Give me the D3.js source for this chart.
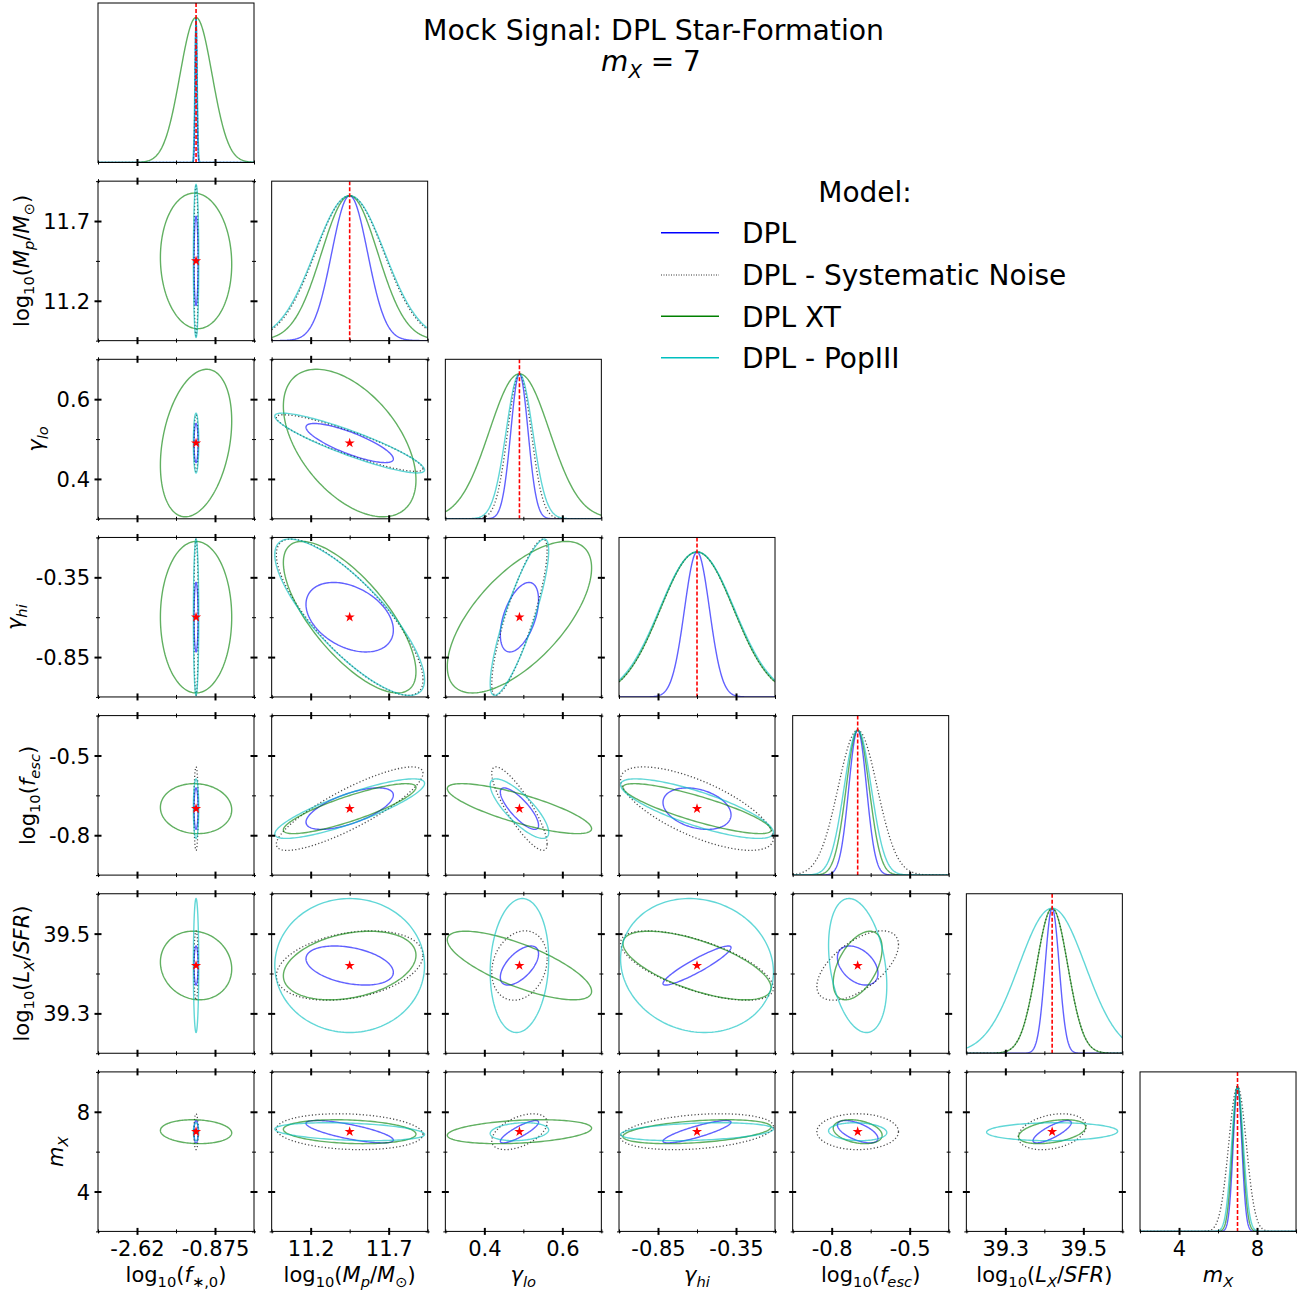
<!DOCTYPE html>
<html><head><meta charset="utf-8">
<script src="https://cdn.jsdelivr.net/npm/d3@7"></script>
<style>body{margin:0;background:#fff} svg text{font-family:"DejaVu Sans";fill:#000}</style>
</head><body><svg id="c" width="1307" height="1291"></svg>
<script>
// ---------------- data ----------------
const paramLabels = [
  [["log","n"],["10","s"],["(","n"],["f","i"],["\u2217,0","s"],[")","n"]],
  [["log","n"],["10","s"],["(","n"],["M","i"],["p","si"],["/","n"],["M","i"],["\u2299","s"],[")","n"]],
  [["\u03b3","i"],["lo","si"]],
  [["\u03b3","i"],["hi","si"]],
  [["log","n"],["10","s"],["(","n"],["f","i"],["esc","si"],[")","n"]],
  [["log","n"],["10","s"],["(","n"],["L","i"],["X","si"],["/","n"],["SFR","i"],[")","n"]],
  [["m","i"],["X","si"]]
];
const paramRanges = [[-3.5,0],[10.95,11.95],[0.3,0.7],[-1.1,-0.1],[-0.95,-0.35],[39.2,39.6],[2,10]];
const truthValues = [-1.3, 11.45, 0.49, -0.6, -0.7, 39.42, 7];
const majorTicks = [[-2.625,-0.875],[11.2,11.7],[0.4,0.6],[-0.85,-0.35],[-0.8,-0.5],[39.3,39.5],[4,8]];
const tickLabels = [["-2.62","-0.875"],["11.2","11.7"],["0.4","0.6"],["-0.85","-0.35"],["-0.8","-0.5"],["39.3","39.5"],["4","8"]];

const modelNames  = ["DPL", "DPL - Systematic Noise", "DPL XT", "DPL - PopIII"];
const modelColors = ["#0000ff", "#000000", "#008000", "#00bfbf"];

// 1D marginal widths (sigma, data units) per parameter
const sigDPL   = [0.020, 0.115, 0.022, 0.080, 0.034, 0.018, 0.22];
const sigNoise = [0.022, 0.220, 0.030, 0.235, 0.075, 0.040, 0.45];
const sigXT    = [0.360, 0.180, 0.077, 0.235, 0.044, 0.040, 0.26];
const sigPop   = [0.026, 0.225, 0.034, 0.240, 0.052, 0.085, 0.30];

// 2D contour half-extents (data units) per parameter
const hwDPL   = [0.045, 0.280, 0.049, 0.218, 0.078, 0.049, 0.56];
const hwNoise = [0.048, 0.470, 0.071, 0.490, 0.157, 0.087, 0.90];
const hwXT    = [0.800, 0.425, 0.185, 0.475, 0.094, 0.086, 0.60];
const hwPop   = [0.060, 0.480, 0.075, 0.490, 0.112, 0.168, 0.45];

// correlations for pairs (row,col): (1,0),(2,0),(2,1),(3,0..2),(4,0..3),(5,0..4),(6,0..5)
const corrDPL   = [0, 0,-0.81, 0,-0.37,0.5, 0,0.65,-0.8,-0.3, 0,-0.35,0.6,0.92,-0.4, 0,-0.75,0.85,0.85,-0.6,0.8];
const corrNoise = [0, 0,-0.9, 0,-0.8,0.85, 0,0.85,-0.85,-0.7, 0,0.3,0.2,-0.65,0.6, 0,-0.15,0.5,0.3,0,0.3];
const corrXT    = [-0.05, 0.3,-0.5, 0,-0.72,0.65, -0.05,0.85,-0.8,-0.85, -0.1,0.3,-0.75,-0.65,0.5, -0.1,-0.2,0.3,0.4,-0.3,0.4];
const corrPop   = [0, 0,-0.9, 0,-0.8,0.85, 0,0.85,-0.8,-0.8, 0,0,0.1,-0.1,-0.3, 0,-0.3,0.2,0.3,-0.1,0.05];

// ---------------- build ----------------
const models = [
  {name:modelNames[0], color:modelColors[0], dash:null, sig:sigDPL, hw:hwDPL, corr:corrDPL},
  {name:modelNames[1], color:modelColors[1], dash:"1.2,2.2", sig:sigNoise, hw:hwNoise, corr:corrNoise},
  {name:modelNames[2], color:modelColors[2], dash:null, sig:sigXT, hw:hwXT, corr:corrXT},
  {name:modelNames[3], color:modelColors[3], dash:null, sig:sigPop, hw:hwPop, corr:corrPop}
];
const N = paramRanges.length;
const X0 = 98, DX = 173.67, PW = 156, Y0 = 3, DY = 178.15, PH = 159.5;
const FS = 21, BIG = 28;
const svg = d3.select("#c");

function rich(sel, segs, fs){
  let cur = 0;
  segs.forEach(([t, st]) => {
    const sub = st[0] === "s";
    const target = sub ? 0.24*fs : 0;
    sel.append("tspan").text(t)
      .attr("dy", target - cur)
      .style("font-size", (sub ? fs*0.7 : fs) + "px")
      .style("font-style", st.includes("i") ? "italic" : "normal");
    cur = target;
  });
}

function ticks(g, x, y, sides, c, r){
  const major = majorTicks[c], dom = paramRanges[c];
  const minor = [dom[0], (dom[0]+dom[1])/2, dom[1]];
  function apply(axisFn, scale, vals, len, w, transform, horiz){
    const a = g.append("g").attr("transform", transform)
      .call(axisFn(scale).tickValues(vals).tickSizeInner(len).tickSizeOuter(0).tickFormat(""));
    a.select(".domain").remove();
    a.selectAll(".tick line").attr(horiz ? "y1" : "x1", -len).attr(horiz ? "y2" : "x2", len)
      .attr("stroke", "#000").attr("stroke-width", w);
  }
  if (sides.includes("b")) { apply(d3.axisBottom, x, major, 3.5, 2, `translate(0,${PH})`, true); apply(d3.axisBottom, x, minor, 2, 1, `translate(0,${PH})`, true); }
  if (sides.includes("t")) { apply(d3.axisTop, x, major, 3.5, 2, `translate(0,0)`, true); apply(d3.axisTop, x, minor, 2, 1, `translate(0,0)`, true); }
  if (y) {
    const ymaj = majorTicks[r], yd = paramRanges[r];
    const ymin = [yd[0], (yd[0]+yd[1])/2, yd[1]];
    if (sides.includes("l")) { apply(d3.axisLeft, y, ymaj, 3.5, 2, `translate(0,0)`, false); apply(d3.axisLeft, y, ymin, 2, 1, `translate(0,0)`, false); }
    if (sides.includes("r")) { apply(d3.axisRight, y, ymaj, 3.5, 2, `translate(${PW},0)`, false); apply(d3.axisRight, y, ymin, 2, 1, `translate(${PW},0)`, false); }
  }
}

function strokeModel(path, m){
  path.attr("fill", "none").attr("stroke", m.color)
    .attr("stroke-opacity", m.dash ? 0.7 : 0.62)
    .attr("stroke-width", 1.4);
  if (m.dash) path.attr("stroke-dasharray", m.dash).attr("stroke-width", 1.3);
}

const defs = svg.append("defs");
defs.append("clipPath").attr("id", "pclip").append("rect").attr("x", 0).attr("y", 0).attr("width", PW).attr("height", PH);

for (let r = 0; r < N; r++) {
  for (let c = 0; c <= r; c++) {
    const px = X0 + c*DX, py = Y0 + r*DY;
    const g = svg.append("g").attr("transform", `translate(${px},${py})`);
    const x = d3.scaleLinear().domain(paramRanges[c]).range([0, PW]);
    if (r === c) {
      const y = d3.scaleLinear().domain([0, 1.1]).range([PH, 0]);
      const xs = d3.range(0, 241).map(i => paramRanges[c][0] + (paramRanges[c][1]-paramRanges[c][0])*i/240);
      const body = g.append("g").attr("clip-path", "url(#pclip)");
      models.forEach(m => {
        const mu = truthValues[c], s = m.sig[c];
        const line = d3.line().x(v => x(v)).y(v => y(Math.exp(-0.5*((v-mu)/s)**2)));
        const xsd = xs.concat(d3.range(-40, 41).map(k => mu + k*s*0.1)).sort((a,b)=>a-b)
          .filter(v => v >= paramRanges[c][0] && v <= paramRanges[c][1]);
        strokeModel(body.append("path").attr("d", line(xsd)), m);
      });
      body.append("line").attr("x1", x(truthValues[c])).attr("x2", x(truthValues[c]))
        .attr("y1", 0).attr("y2", PH).attr("stroke", "red").attr("stroke-width", 1.6)
        .attr("stroke-dasharray", "4,2");
      g.append("rect").attr("width", PW).attr("height", PH).attr("fill", "none").attr("stroke", "#000").attr("stroke-width", 1);
      ticks(g, x, null, "b", c, r);
    } else {
      const y = d3.scaleLinear().domain(paramRanges[r]).range([PH, 0]);
      const body = g.append("g").attr("clip-path", "url(#pclip)");
      const pi = r*(r-1)/2 + c;
      models.forEach(m => {
        const a = m.hw[c], b = m.hw[r], rho = m.corr[pi];
        const cx = truthValues[c], cy = truthValues[r];
        const q = Math.sqrt(1 - rho*rho);
        const pts = d3.range(0, 160).map(i => {
          const t = 2*Math.PI*i/160;
          return [cx + a*Math.cos(t), cy + b*(rho*Math.cos(t) + q*Math.sin(t))];
        });
        const line = d3.line().x(d => x(d[0])).y(d => y(d[1])).curve(d3.curveLinearClosed);
        strokeModel(body.append("path").attr("d", line(pts)), m);
      });
      g.append("path").attr("d", d3.symbol(d3.symbolStar).size(32)())
        .attr("transform", `translate(${x(truthValues[c])},${y(truthValues[r])})`).attr("fill", "red");
      g.append("rect").attr("width", PW).attr("height", PH).attr("fill", "none").attr("stroke", "#000").attr("stroke-width", 1);
      ticks(g, x, y, "btlr", c, r);
      if (c === 0) {
        const la = g.append("g").call(d3.axisLeft(y).tickValues(majorTicks[r]).tickSize(0).tickPadding(8)
          .tickFormat((d, i) => tickLabels[r][i]));
        la.select(".domain").remove();
        la.selectAll("text").attr("font-family", "DejaVu Sans").style("font-size", FS + "px").attr("dy", "0.36em");
        let minX = 1e9;
        la.selectAll("text").each(function(){ minX = Math.min(minX, this.getBoundingClientRect().left); });
        const cyL = py + PH/2;
        const lab = svg.append("text").attr("text-anchor", "middle")
          .attr("transform", `translate(${minX - 12},${cyL}) rotate(-90)`).style("font-size", FS + "px");
        rich(lab, paramLabels[r], FS);
        const bb = lab.node().getBoundingClientRect();
        const shift = (minX - 6) - bb.right;
        lab.attr("transform", `translate(${minX - 12 + shift},${cyL}) rotate(-90)`);
      }
    }
    if (r === N - 1) {
      const ba = g.append("g").attr("transform", `translate(0,${PH})`)
        .call(d3.axisBottom(x).tickValues(majorTicks[c]).tickSize(0).tickPadding(10)
          .tickFormat((d, i) => tickLabels[c][i]));
      ba.select(".domain").remove();
      ba.selectAll("text").attr("font-family", "DejaVu Sans").style("font-size", FS + "px");
      const lab = svg.append("text").attr("text-anchor", "middle")
        .attr("x", px + PW/2).attr("y", 1278).style("font-size", FS + "px");
      rich(lab, paramLabels[c], FS);
      const bb = lab.node().getBoundingClientRect();
      lab.attr("y", 1278 + (1263 - bb.top));
    }
  }
}

// title
svg.append("text").attr("x", 653.5).attr("y", 40).attr("text-anchor", "middle")
  .style("font-size", "28.3px").text("Mock Signal: DPL Star-Formation");
const t2 = svg.append("text").attr("x", 651).attr("y", 71).attr("text-anchor", "middle").style("font-size", BIG + "px");
rich(t2, [["m","i"],["X","si"],[" = 7","n"]], BIG);

// legend
svg.append("text").attr("x", 865).attr("y", 202).attr("text-anchor", "middle").style("font-size", BIG + "px").text("Model:");
const legY = [232.7, 275, 316.3, 357.7];
models.forEach((m, i) => {
  const ln = svg.append("line").attr("x1", 661).attr("x2", 719).attr("y1", legY[i]).attr("y2", legY[i])
    .attr("stroke", m.color).attr("stroke-width", 1.5);
  if (m.dash) ln.attr("stroke-dasharray", "1,1.5").attr("stroke-width", 1.2).attr("stroke-opacity", 0.8);
  svg.append("text").attr("x", 742).attr("y", legY[i] + 10.2).style("font-size", BIG + "px").text(m.name);
});
</script></body></html>
